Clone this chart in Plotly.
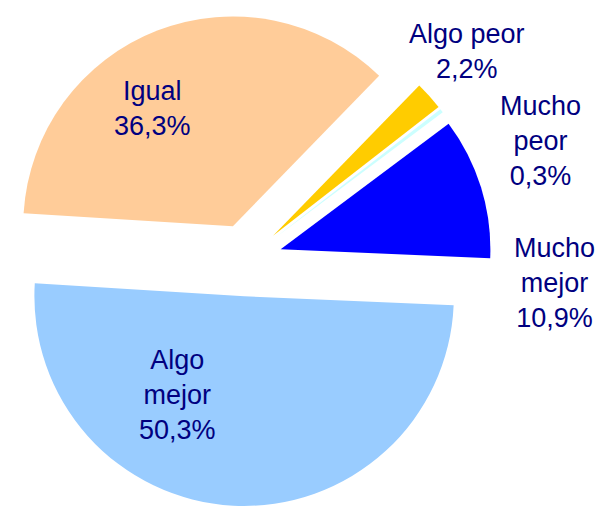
import plotly.graph_objects as go

# Data
categories = ["Mucho mejor", "Mucho peor", "Algo peor", "Igual", "Algo mejor"]
display_labels = ["Mucho<br>mejor", "Mucho<br>peor", "Algo peor", "Igual", "Algo<br>mejor"]
values = [10.9, 0.3, 2.2, 36.3, 50.3]
colors = ["#0000FF", "#CCFFFF", "#FFCC00", "#FFCC99", "#99CCFF"]

W, H = 604, 514
pull = 0.173

fig = go.Figure(
    go.Pie(
        labels=categories,
        values=values,
        sort=False,
        direction="counterclockwise",
        rotation=53.2,
        pull=[pull] * len(values),
        marker=dict(colors=colors, line=dict(width=0)),
        textinfo="none",
        hoverinfo="label+percent",
        domain=dict(x=[0, 492 / W], y=[0, 1 - 6 / H]),
        showlegend=False,
    )
)

# label positions (pixel centres of each label block)
label_pos = [(554, 283), (540, 141), (467, 52), (152, 108), (177, 395)]

def fmt(v):
    return f"{v:.1f}".replace(".", ",") + "%"

for lab, v, (px, py) in zip(display_labels, values, label_pos):
    fig.add_annotation(
        x=px / W, y=1 - py / H, xref="paper", yref="paper",
        text=f"{lab}<br>{fmt(v)}", showarrow=False,
        xanchor="center", yanchor="middle", align="center",
        font=dict(family="Liberation Sans, Arial, sans-serif", size=27, color="#000080"),
    )

fig.update_layout(
    width=W, height=H,
    margin=dict(l=0, r=0, t=0, b=0),
    paper_bgcolor="white", plot_bgcolor="white",
)

fig.write_html(
    "out.html",
    config={"displayModeBar": False},
    post_script="document.body.style.margin='0';",
)
